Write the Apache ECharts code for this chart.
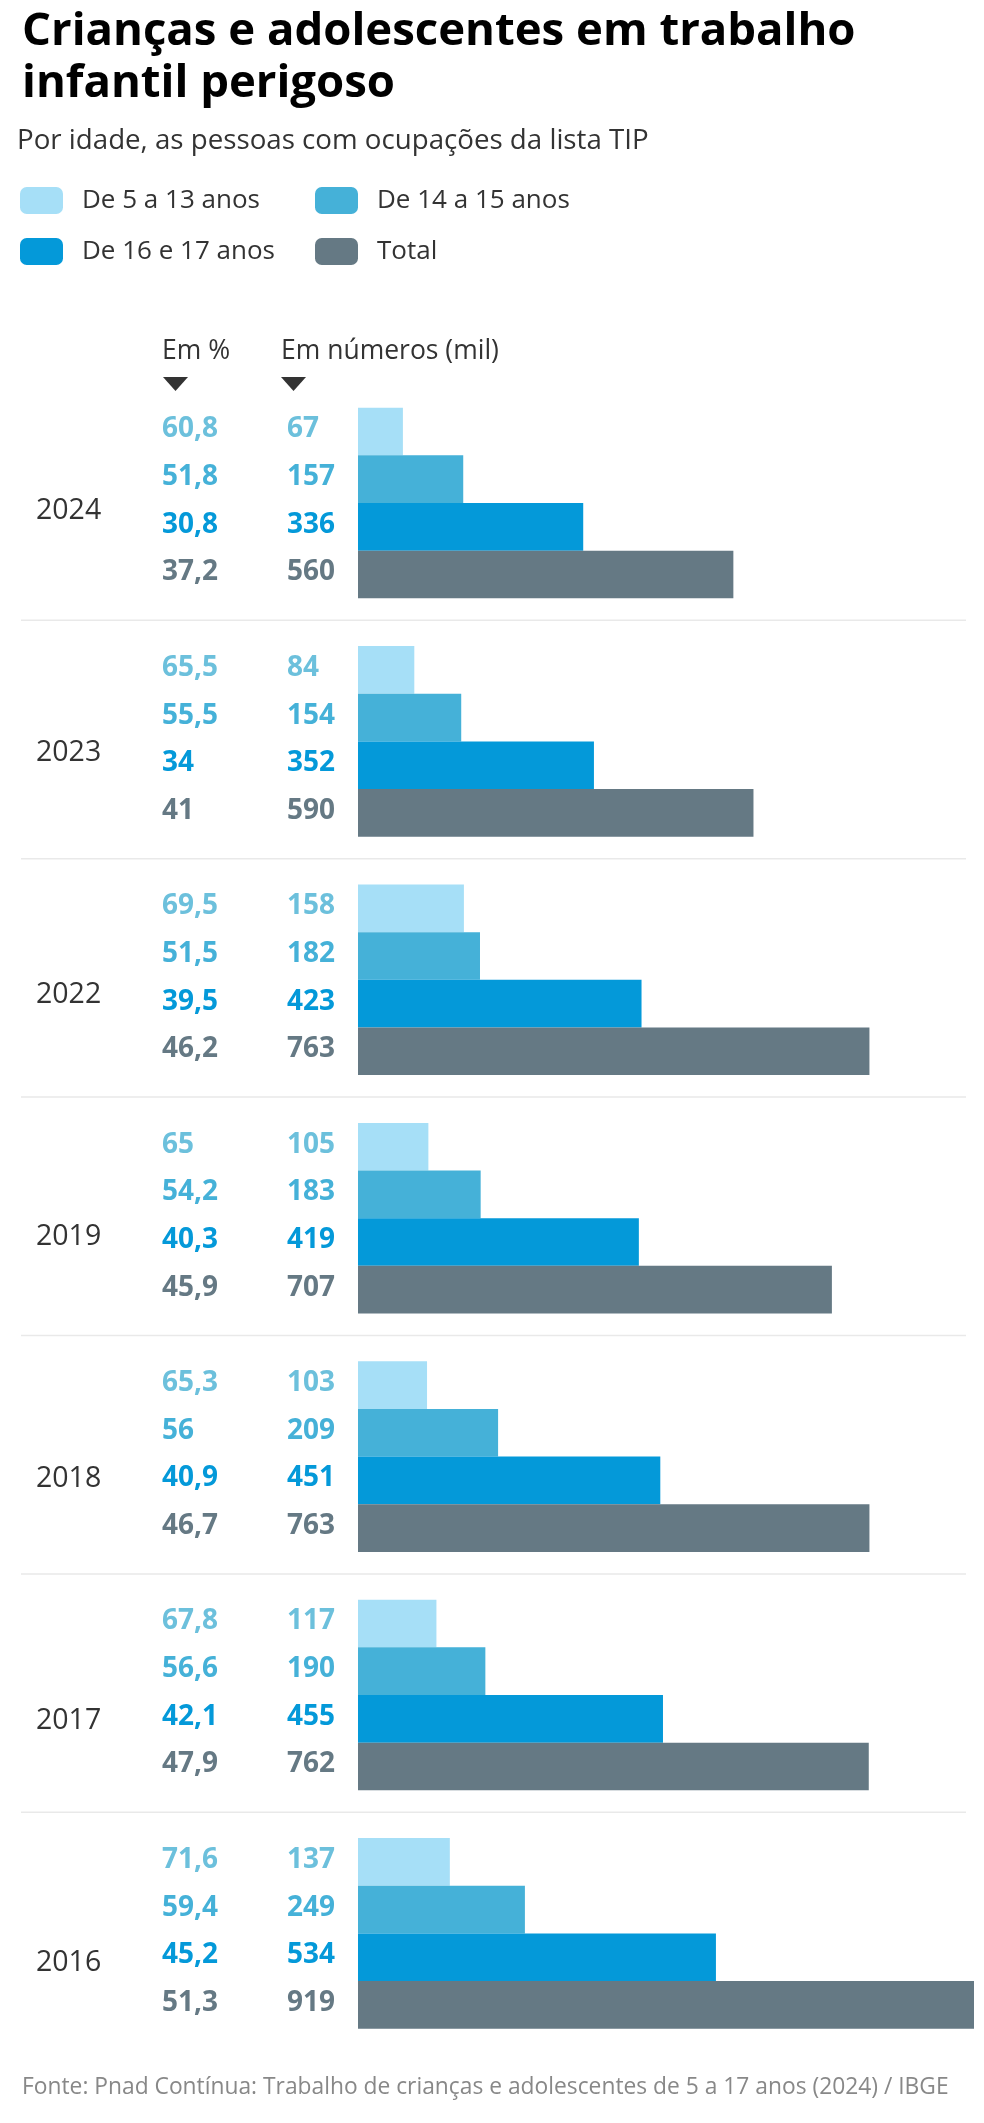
<!DOCTYPE html>
<html>
<head>
<meta charset="utf-8">
<script src="https://cdn.jsdelivr.net/npm/echarts@6/dist/echarts.min.js"></script>
<style>
html,body{margin:0;padding:0;background:#fff;}
#chart{width:984px;height:2123px;}
</style>
</head>
<body>
<div id="chart"></div>
<script>
// ---- data ----
const years = ['2024', '2023', '2022', '2019', '2018', '2017', '2016'];
const groups = ['De 5 a 13 anos', 'De 14 a 15 anos', 'De 16 e 17 anos', 'Total'];
const pct5to13 = [60.8, 65.5, 69.5, 65, 65.3, 67.8, 71.6];
const pct14to15 = [51.8, 55.5, 51.5, 54.2, 56, 56.6, 59.4];
const pct16to17 = [30.8, 34, 39.5, 40.3, 40.9, 42.1, 45.2];
const pctTotal = [37.2, 41, 46.2, 45.9, 46.7, 47.9, 51.3];
const num5to13 = [67, 84, 158, 105, 103, 117, 137];
const num14to15 = [157, 154, 182, 183, 209, 190, 249];
const num16to17 = [336, 352, 423, 419, 451, 455, 534];
const numTotal = [560, 590, 763, 707, 763, 762, 919];

// ---- styling ----
const barColors = ['#a6dff7', '#45b1d8', '#0499d9', '#657984'];
const labelColors = ['#6cc0dc', '#45b1d8', '#0499d9', '#657984'];
const FONT = '"Open Sans", "Noto Sans", sans-serif';

const pctSets = [pct5to13, pct14to15, pct16to17, pctTotal];
const numSets = [num5to13, num14to15, num16to17, numTotal];
const fmt = v => String(v).replace('.', ',');

const GRID_TOP0 = 407.7, PITCH = 238.4, GRID_H = 190.6;
const AX_LEFT = 358, AX_W = 616;

const grids = [], xAxes = [], yAxes = [], series = [], graphics = [];
const rich = {};
for (let k = 0; k < 4; k++) {
  rich['p' + k] = {fontFamily: FONT, fontWeight: 'bold', fontSize: 28, color: labelColors[k], width: 125, align: 'left'};
  rich['n' + k] = {fontFamily: FONT, fontWeight: 'bold', fontSize: 28, color: labelColors[k], align: 'left'};
}

years.forEach((yr, i) => {
  const top = GRID_TOP0 + PITCH * i;
  const yearShift = 8 + 3.6 * i; // year labels sit progressively lower than the group centre
  grids.push({left: AX_LEFT, top: top, width: AX_W, height: GRID_H, containLabel: false});
  xAxes.push({type: 'value', gridIndex: i, min: 0, max: 919, show: false});
  yAxes.push({
    type: 'category', gridIndex: i, inverse: true, data: groups,
    axisLine: {show: false}, axisTick: {show: false}, splitLine: {show: false},
    name: '{y|' + yr + '}', nameLocation: 'middle', nameRotate: 0, nameGap: AX_LEFT - 36,
    nameTextStyle: {
      align: 'left', verticalAlign: 'middle',
      rich: {y: {fontFamily: FONT, fontSize: 28.5, color: '#333', padding: [2 * yearShift, 0, 0, 0]}}
    },
    axisLabel: {
      margin: AX_LEFT - 162, align: 'left', rich: rich, padding: [0, 0, 4, 0],
      formatter: (val, idx) => '{p' + idx + '|' + fmt(pctSets[idx][i]) + '}{n' + idx + '|' + numSets[idx][i] + '}'
    }
  });
  groups.forEach((g, k) => {
    series.push({
      type: 'bar', name: g, xAxisIndex: i, yAxisIndex: i,
      barGap: '-100%', barCategoryGap: 0,
      itemStyle: {color: barColors[k]},
      silent: true,
      data: groups.map((_, kk) => kk === k ? numSets[k][i] : '-')
    });
  });
  if (i < years.length - 1) {
    const y = top + GRID_H + 22;
    graphics.push({type: 'line', shape: {x1: 21, y1: y, x2: 966, y2: y}, style: {stroke: '#e9e9e9', lineWidth: 1.5}});
  }
});

// header triangles
[163, 281].forEach(x => {
  graphics.push({type: 'polygon', shape: {points: [[x, 377], [x + 25, 377], [x + 12.5, 391]]}, style: {fill: '#333'}});
});

const legendPos = [[20, 187], [315, 187], [20, 238], [315, 238]];
const legends = groups.map((g, k) => ({
  data: [g], left: legendPos[k][0], top: legendPos[k][1], padding: 0,
  itemWidth: 43, itemHeight: 27, icon: 'roundRect', selectedMode: false,
  textStyle: {fontFamily: FONT, fontSize: 26, color: '#333', padding: [0, 0, 0, 14]}
}));

const option = {
  animation: false,
  title: [
    {text: 'Crianças e adolescentes em trabalho\ninfantil perigoso', left: 22, top: 6, padding: 0,
     textStyle: {fontFamily: FONT, fontWeight: 'bold', fontSize: 45.5, lineHeight: 52, color: '#000'}},
    {text: 'Por idade, as pessoas com ocupações da lista TIP', left: 17, top: 125, padding: 0,
     textStyle: {fontFamily: FONT, fontWeight: 'normal', fontSize: 27.7, lineHeight: 32, color: '#333'}},
    {text: 'Em %', left: 162, top: 335, padding: 0,
     textStyle: {fontFamily: FONT, fontWeight: 'normal', fontSize: 26.5, lineHeight: 32, color: '#333'}},
    {text: 'Em números (mil)', left: 281, top: 335, padding: 0,
     textStyle: {fontFamily: FONT, fontWeight: 'normal', fontSize: 26.5, lineHeight: 32, color: '#333'}},
    {text: 'Fonte: Pnad Contínua: Trabalho de crianças e adolescentes de 5 a 17 anos (2024) / IBGE', left: 22, top: 2073, padding: 0,
     textStyle: {fontFamily: FONT, fontWeight: 'normal', fontSize: 22.8, lineHeight: 30, color: '#888'}}
  ],
  legend: legends,
  grid: grids,
  xAxis: xAxes,
  yAxis: yAxes,
  series: series,
  graphic: graphics
};

const chart = echarts.init(document.getElementById('chart'), null, {renderer: 'canvas'});
chart.setOption(option);
</script>
</body>
</html>
